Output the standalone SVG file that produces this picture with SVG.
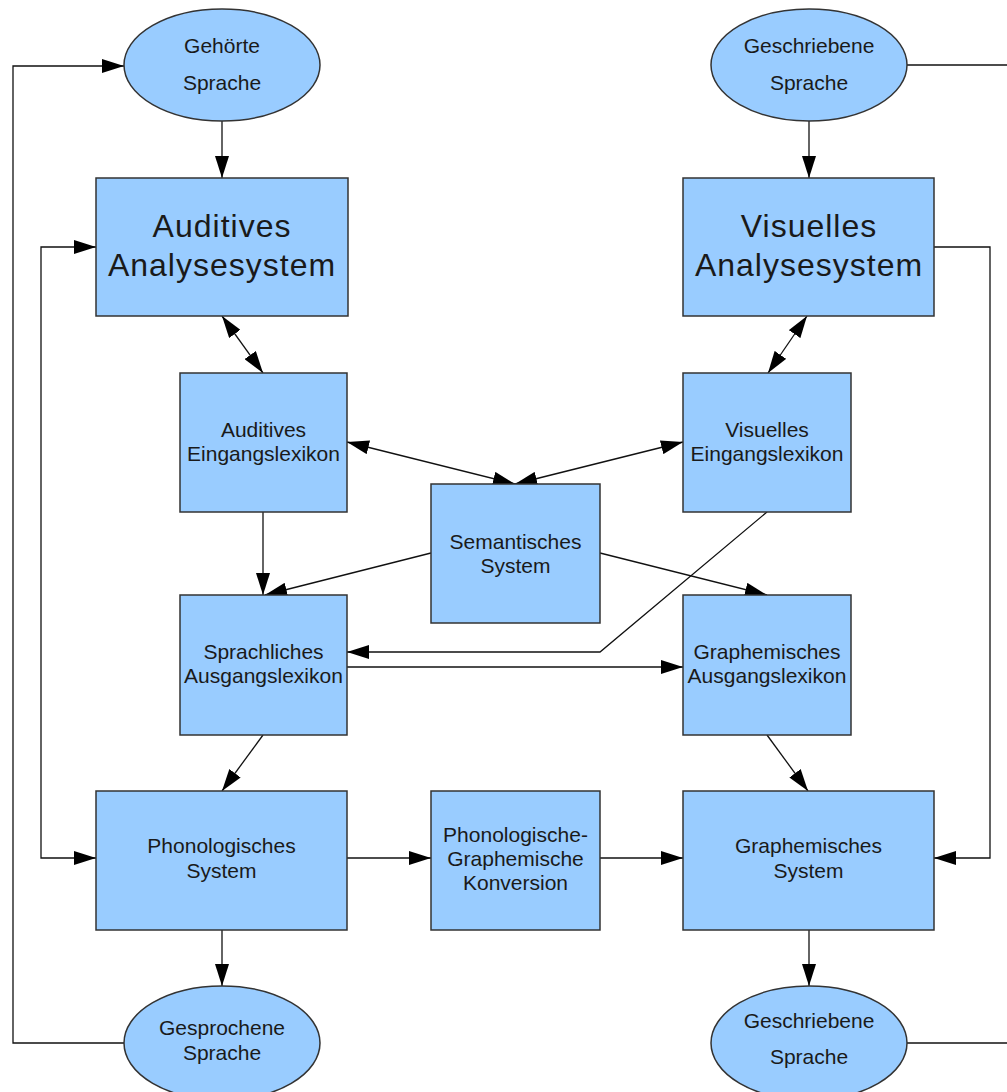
<svg xmlns="http://www.w3.org/2000/svg" width="1007" height="1092" viewBox="0 0 1007 1092">
<style>
.n{fill:#99ccff;stroke:#333;stroke-width:1.5}
.t{font-family:"Liberation Sans",Arial,sans-serif;font-size:21px;fill:#1a1a1a;text-anchor:middle}
.b{font-size:32px;letter-spacing:1px}
.c path{fill:none;stroke:#111;stroke-width:1.3}
</style>
<defs>
<marker id="a" viewBox="0 0 22 14" markerWidth="22" markerHeight="14" refX="22" refY="7" markerUnits="userSpaceOnUse" orient="auto-start-reverse">
<path d="M0,0 L22,7 L0,14 z" fill="#000"/>
</marker>
</defs>
<rect width="1007" height="1092" fill="#fff"/>
<g class="c">
<path d="M222,121 V178" marker-end="url(#a)"/>
<path d="M809,121 V178" marker-end="url(#a)"/>
<path d="M222,316 L263,373" marker-start="url(#a)" marker-end="url(#a)"/>
<path d="M807,316 L768,373" marker-start="url(#a)" marker-end="url(#a)"/>
<path d="M347,442 L515,484" marker-start="url(#a)" marker-end="url(#a)"/>
<path d="M683,442 L515,484" marker-start="url(#a)" marker-end="url(#a)"/>
<path d="M263,512 V595" marker-end="url(#a)"/>
<path d="M431,553 L265,595" marker-end="url(#a)"/>
<path d="M600,553 L767,595" marker-end="url(#a)"/>
<path d="M767,512 L600,652 H347" marker-end="url(#a)"/>
<path d="M347,667 H683" marker-end="url(#a)"/>
<path d="M263,735 L222,791" marker-end="url(#a)"/>
<path d="M767,735 L808,791" marker-end="url(#a)"/>
<path d="M347,858 H431" marker-end="url(#a)"/>
<path d="M600,858 H683" marker-end="url(#a)"/>
<path d="M222,930 V986" marker-end="url(#a)"/>
<path d="M809,930 V986" marker-end="url(#a)"/>
<path d="M124,1043 H13 V66 H124" marker-end="url(#a)"/>
<path d="M96,247 H41 V858 H96" marker-start="url(#a)" marker-end="url(#a)"/>
<path d="M934,247 H990 V858 H934" marker-end="url(#a)"/>
<path d="M907,65 H1007"/>
<path d="M907,1043 H1007"/>
</g>
<g id="gehoerte-sprache"><ellipse class="n" cx="222" cy="65" rx="98" ry="56"/><text class="t" x="222" y="53">Gehörte</text><text class="t" x="222" y="90">Sprache</text></g>
<g id="geschriebene-sprache-oben"><ellipse class="n" cx="809" cy="65" rx="98" ry="56"/><text class="t" x="809" y="53">Geschriebene</text><text class="t" x="809" y="90">Sprache</text></g>
<g id="auditives-analysesystem"><rect class="n" x="96" y="178" width="252" height="138"/><text class="t b" x="222" y="237">Auditives</text><text class="t b" x="222" y="276">Analysesystem</text></g>
<g id="visuelles-analysesystem"><rect class="n" x="683" y="178" width="251" height="138"/><text class="t b" x="809" y="237">Visuelles</text><text class="t b" x="809" y="276">Analysesystem</text></g>
<g id="auditives-eingangslexikon"><rect class="n" x="180" y="373" width="167" height="139"/><text class="t" x="263.5" y="437">Auditives</text><text class="t" x="263.5" y="461">Eingangslexikon</text></g>
<g id="visuelles-eingangslexikon"><rect class="n" x="683" y="373" width="168" height="139"/><text class="t" x="767" y="437">Visuelles</text><text class="t" x="767" y="461">Eingangslexikon</text></g>
<g id="semantisches-system"><rect class="n" x="431" y="484" width="169" height="139"/><text class="t" x="515.5" y="549">Semantisches</text><text class="t" x="515.5" y="573">System</text></g>
<g id="sprachliches-ausgangslexikon"><rect class="n" x="180" y="595" width="167" height="140"/><text class="t" x="263.5" y="659">Sprachliches</text><text class="t" x="263.5" y="683">Ausgangslexikon</text></g>
<g id="graphemisches-ausgangslexikon"><rect class="n" x="683" y="595" width="168" height="140"/><text class="t" x="767" y="659">Graphemisches</text><text class="t" x="767" y="683">Ausgangslexikon</text></g>
<g id="phonologisches-system"><rect class="n" x="96" y="791" width="251" height="139"/><text class="t" x="221.5" y="853">Phonologisches</text><text class="t" x="221.5" y="878">System</text></g>
<g id="pg-konversion"><rect class="n" x="431" y="791" width="169" height="139"/><text class="t" x="515.5" y="842">Phonologische-</text><text class="t" x="515.5" y="866">Graphemische</text><text class="t" x="515.5" y="890">Konversion</text></g>
<g id="graphemisches-system"><rect class="n" x="683" y="791" width="251" height="139"/><text class="t" x="808.5" y="853">Graphemisches</text><text class="t" x="808.5" y="878">System</text></g>
<g id="gesprochene-sprache"><ellipse class="n" cx="222" cy="1043" rx="98" ry="57"/><text class="t" x="222" y="1035">Gesprochene</text><text class="t" x="222" y="1060">Sprache</text></g>
<g id="geschriebene-sprache-unten"><ellipse class="n" cx="809" cy="1043" rx="98" ry="57"/><text class="t" x="809" y="1028">Geschriebene</text><text class="t" x="809" y="1064">Sprache</text></g>
</svg>
